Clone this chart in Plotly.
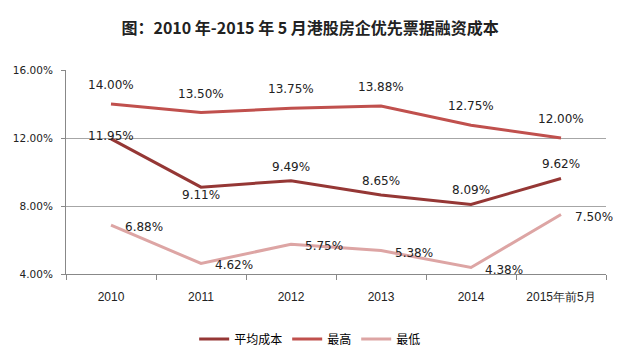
import plotly.graph_objects as go

categories = ["2010", "2011", "2012", "2013", "2014", "2015年前5月"]
avg_cost = [11.95, 9.11, 9.49, 8.65, 8.09, 9.62]
highest = [14.00, 13.50, 13.75, 13.88, 12.75, 12.00]
lowest = [6.88, 4.62, 5.75, 5.38, 4.38, 7.50]
y_ticks = [4, 8, 12, 16]

label_font = dict(family="DejaVu Sans, Verdana, sans-serif", size=12, color="#222222")

fig = go.Figure()

fig.add_trace(go.Scatter(
    x=categories, y=avg_cost, name="平均成本", mode="lines",
    line=dict(color="#953735", width=3),
))
fig.add_trace(go.Scatter(
    x=categories, y=highest, name="最高", mode="lines",
    line=dict(color="#C0504D", width=3),
))
fig.add_trace(go.Scatter(
    x=categories, y=lowest, name="最低", mode="lines",
    line=dict(color="#DDA5A4", width=3),
))

# data labels (x given as category index on the category axis)
for i, c in enumerate(categories):
    fig.add_annotation(x=i, y=highest[i], text=f"{highest[i]:.2f}%", showarrow=False,
                       yshift=19, font=label_font)
    ys = -8 if i == 1 else 14
    if i == 0:
        ys = 3
    fig.add_annotation(x=i, y=avg_cost[i], text=f"{avg_cost[i]:.2f}%", showarrow=False,
                       yshift=ys, font=label_font)
    fig.add_annotation(x=i, y=lowest[i], text=f"{lowest[i]:.2f}%", showarrow=False,
                       xanchor="left", xshift=12, yshift=-2, font=label_font)

fig.update_layout(
    width=633, height=358,
    margin=dict(l=66, r=27, t=70, b=84),
    paper_bgcolor="white", plot_bgcolor="white",
    title=dict(text="<b>图：2010 年-2015 年 5 月港股房企优先票据融资成本</b>",
               x=0.49, xanchor="center", y=0.922, yanchor="middle",
               font=dict(family="Noto Sans CJK SC, sans-serif", size=16, color="#222222")),
    showlegend=True,
    legend=dict(orientation="h", xref="container", yref="container",
                x=0.49, xanchor="center", y=0.053, yanchor="middle",
                font=dict(family="Noto Sans CJK SC, sans-serif", size=12, color="#000000"),
                itemwidth=30, tracegroupgap=0),
    xaxis=dict(
        type="category", categoryorder="array", categoryarray=categories,
        range=[-0.5, len(categories) - 0.5],
        tickson="boundaries", ticks="outside", ticklen=5,
        tickcolor="#888888", showline=True, linecolor="#888888", linewidth=1,
        showgrid=False, tickangle=0, ticklabelstandoff=12,
        tickfont=dict(family="Liberation Sans Narrow, Liberation Sans, sans-serif", size=12, color="#222222"),
    ),
    yaxis=dict(
        range=[4, 16], tickvals=y_ticks, ticktext=[f"{v:.2f}%" for v in y_ticks],
        showgrid=True, gridcolor="#A6A6A6", gridwidth=1,
        showline=True, linecolor="#888888", linewidth=1,
        ticks="outside", ticklen=4, tickcolor="#888888",
        zeroline=False, ticklabelstandoff=6,
        tickfont=dict(family="DejaVu Sans, Verdana, sans-serif", size=10.5, color="#222222"),
    ),
)

fig.write_html("out.html", config={"displayModeBar": False},
               post_script="document.body.style.margin='0';")
